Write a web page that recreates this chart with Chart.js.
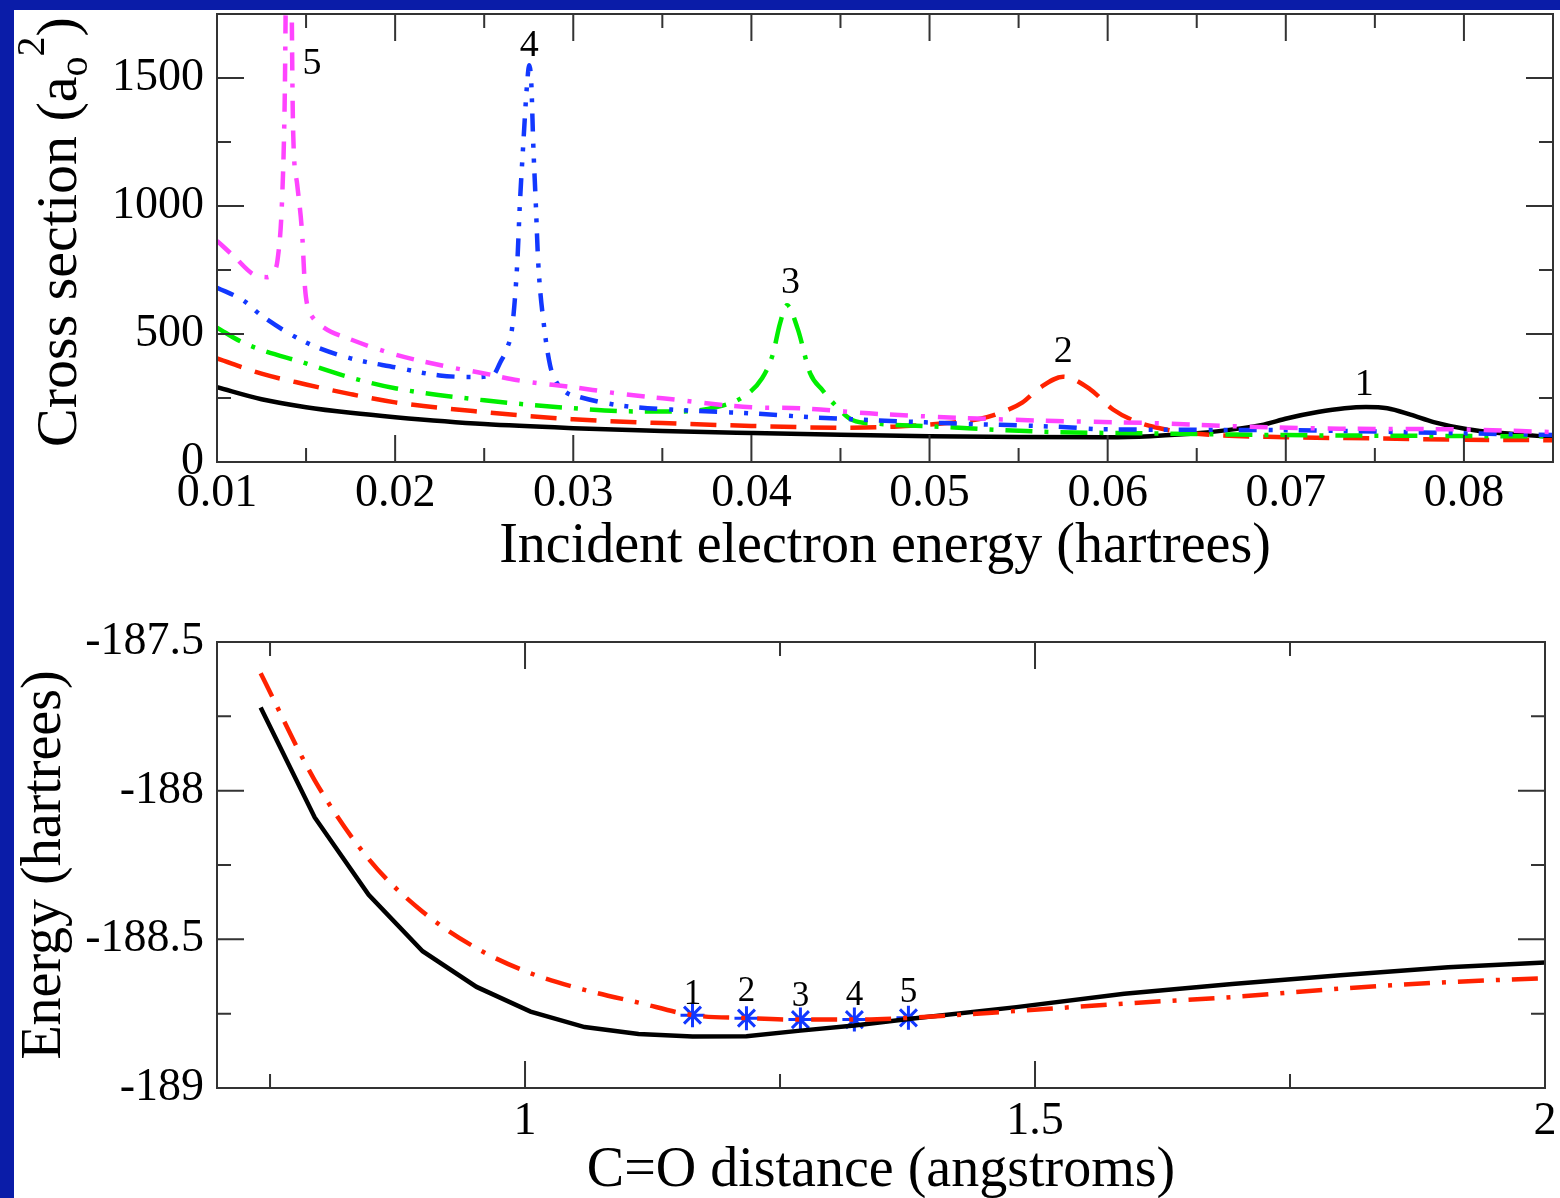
<!DOCTYPE html>
<html>
<head>
<meta charset="utf-8">
<script src="https://cdn.jsdelivr.net/npm/chart.js@4.4.0/dist/chart.umd.min.js"></script>
<style>
  html, body { margin: 0; padding: 0; }
  body { width: 1560px; height: 1198px; background: #0a1ca8; position: relative; overflow: hidden; }
  #panel { position: absolute; left: 14px; top: 10px; right: 0; bottom: 0; background: #fff; }
  canvas { position: absolute; left: 0; }
  #top { top: 0; }
  #bottom { top: 600px; }
</style>
</head>
<body>
<div id="panel"></div>
<canvas id="top" width="1560" height="590"></canvas>
<canvas id="bottom" width="1560" height="598"></canvas>
<script>
// ---- top panel: cross sections vs incident energy ----
const e1 = [0.010, 0.0125, 0.015, 0.0175, 0.020, 0.025, 0.030, 0.035, 0.040, 0.045, 0.050, 0.055, 0.060, 0.0624, 0.0652, 0.0686, 0.0701, 0.0718, 0.0733, 0.0745, 0.0757, 0.0770, 0.0783, 0.0802, 0.0821, 0.0851];
const cs1 = [292, 245, 214, 192, 175, 148, 132, 121, 113, 106, 101, 98, 97, 101, 113, 144, 171, 195, 210, 215, 210, 185, 156, 128, 113, 97];

const e2 = [0.010, 0.0125, 0.015, 0.0175, 0.020, 0.025, 0.030, 0.035, 0.040, 0.045, 0.048, 0.051, 0.0528, 0.0539, 0.0552, 0.0562, 0.0575, 0.0590, 0.0603, 0.0616, 0.0634, 0.065, 0.070, 0.075, 0.080, 0.085];
const cs2 = [405, 345, 303, 265, 233, 195, 167, 152, 141, 134, 138, 152, 168, 190, 232, 290, 333, 285, 205, 158, 125, 110, 97, 92, 87, 85];

const e3 = [0.010, 0.0115, 0.015, 0.0175, 0.020, 0.025, 0.030, 0.033, 0.0358, 0.038, 0.0395, 0.0406, 0.0412, 0.0416, 0.0420, 0.0426, 0.0433, 0.0440, 0.0446, 0.0457, 0.047, 0.051, 0.054, 0.057, 0.062, 0.070, 0.078, 0.085];
const cs3 = [525, 465, 385, 330, 288, 241, 210, 198, 197, 214, 253, 327, 420, 540, 612, 520, 346, 280, 230, 163, 150, 136, 125, 117, 112, 105, 102, 100];

const e4 = [0.010, 0.0115, 0.0125, 0.015, 0.0175, 0.020, 0.0225, 0.0245, 0.0255, 0.0259, 0.0263, 0.02657, 0.02686, 0.0270, 0.0272, 0.0274, 0.02753, 0.02765, 0.02775, 0.0279, 0.02803, 0.02837, 0.0287, 0.0290, 0.0296, 0.0304, 0.0325, 0.0362, 0.040, 0.0433, 0.047, 0.0508, 0.0577, 0.0596, 0.069, 0.0793, 0.085];
const cs4 = [681, 630, 572, 467, 405, 370, 338, 332, 340, 389, 447, 525, 782, 1004, 1249, 1470, 1550, 1470, 1249, 1004, 782, 525, 377, 319, 272, 253, 222, 202, 190, 175, 163, 152, 136, 128, 125, 113, 105];

const e5 = [0.010, 0.011, 0.012, 0.0128, 0.0132, 0.0134, 0.01365, 0.0138, 0.01395, 0.0141, 0.01427, 0.0145, 0.01478, 0.01494, 0.0151, 0.0153, 0.016, 0.0175, 0.020, 0.0231, 0.025, 0.0269, 0.030, 0.0325, 0.035, 0.040, 0.0427, 0.0466, 0.0508, 0.0571, 0.0625, 0.067, 0.073, 0.079, 0.085];
const cs5 = [864, 800, 735, 722, 745, 790, 1019, 1408, 2300, 2300, 1303, 1085, 891, 681, 603, 572, 525, 479, 420, 370, 346, 319, 292, 268, 249, 214, 210, 190, 175, 160, 152, 140, 130, 128, 117];

const eTicks = [0.01, 0.02, 0.03, 0.04, 0.05, 0.06, 0.07, 0.08];
const eMinor = [0.015, 0.025, 0.035, 0.045, 0.055, 0.065, 0.075, 0.085];
const csTicks = [0, 500, 1000, 1500];
const csMinor = [250, 750, 1250];

const peakText = ['1', '2', '3', '4', '5'];
const peakE = [0.0744, 0.0575, 0.0422, 0.02753, 0.01534];
const peakCS = [300, 428, 700, 1623, 1556];

// ---- bottom panel: potential energy curves ----
const dist = [0.7408, 0.7938, 0.8467, 0.8996, 0.9525, 1.0054, 1.0584, 1.1113, 1.1642, 1.2171, 1.2700, 1.3229, 1.3759, 1.4817, 1.5875, 1.6934, 1.7992, 1.9050, 2.0];
const enBlack = [-187.72, -188.09, -188.35, -188.54, -188.66, -188.743, -188.795, -188.818, -188.827, -188.826, -188.807, -188.790, -188.768, -188.728, -188.683, -188.650, -188.621, -188.594, -188.578];
const enRed = [-187.605, -187.965, -188.23, -188.407, -188.530, -188.614, -188.670, -188.713, -188.755, -188.765, -188.770, -188.770, -188.764, -188.741, -188.716, -188.694, -188.666, -188.644, -188.631];

const starX = [1.1642, 1.2171, 1.2700, 1.3229, 1.3759];
const starE = [-188.755, -188.765, -188.770, -188.770, -188.764];
const starText = ['1', '2', '3', '4', '5'];
const starLabelE = [-188.687, -188.678, -188.694, -188.691, -188.681];

const dTicks = [1, 1.5, 2];
const dMinor = [0.75, 1.25, 1.75];
const enTicks = [-189, -188.5, -188, -187.5];
const enMinor = [-188.75, -188.25, -187.75];

const serif = '"Liberation Serif", "Times New Roman", serif';
const pts = (xs, ys) => xs.map((x, i) => ({ x: x, y: ys[i] }));

function framePlugin(cfg) {
    return {
        id: 'frame',
        afterDraw(chart) {
            const ctx = chart.ctx, a = chart.chartArea;
            const xs = chart.scales.x, ys = chart.scales.y;
            ctx.save();
            ctx.strokeStyle = '#333';
            ctx.lineWidth = 2;
            ctx.strokeRect(a.left, a.top, a.right - a.left, a.bottom - a.top);
            ctx.beginPath();
            const xt = (vals, len) => vals.forEach(v => {
                const p = xs.getPixelForValue(v);
                ctx.moveTo(p, a.bottom); ctx.lineTo(p, a.bottom - len);
                ctx.moveTo(p, a.top); ctx.lineTo(p, a.top + len);
            });
            const yt = (vals, len) => vals.forEach(v => {
                const p = ys.getPixelForValue(v);
                ctx.moveTo(a.left, p); ctx.lineTo(a.left + len, p);
                ctx.moveTo(a.right, p); ctx.lineTo(a.right - len, p);
            });
            xt(cfg.xMajor, 27); xt(cfg.xMinor, 14);
            yt(cfg.yMajor, 27); yt(cfg.yMinor, 14);
            ctx.stroke();

            ctx.fillStyle = '#000';
            // x title
            ctx.font = '56px ' + serif;
            ctx.textAlign = 'center';
            ctx.textBaseline = 'alphabetic';
            ctx.fillText(cfg.xTitle, (a.left + a.right) / 2, cfg.xTitleY);

            // y title, rotated, with optional sub/superscripts
            ctx.save();
            ctx.translate(cfg.yTitleX, (a.top + a.bottom) / 2 + (cfg.yTitleShift || 0));
            ctx.rotate(-Math.PI / 2);
            ctx.textAlign = 'left';
            let total = 0;
            cfg.yTitle.forEach(p => { ctx.font = p.size + 'px ' + serif; total += ctx.measureText(p.t).width; });
            let cx = -total / 2;
            cfg.yTitle.forEach(p => {
                ctx.font = p.size + 'px ' + serif;
                ctx.fillText(p.t, cx, p.dy);
                cx += ctx.measureText(p.t).width;
            });
            ctx.restore();

            // numbered labels
            ctx.font = cfg.labelSize + 'px ' + serif;
            ctx.textAlign = 'center';
            ctx.textBaseline = 'middle';
            cfg.labels.text.forEach((t, i) => {
                ctx.fillText(t, xs.getPixelForValue(cfg.labels.x[i]), ys.getPixelForValue(cfg.labels.y[i]));
            });
            ctx.restore();
        }
    };
}

function axis(min, max, ticks, fit) {
    return {
        type: 'linear', min: min, max: max,
        grid: { display: false, drawTicks: false },
        border: { display: false },
        ticks: {
            font: { family: serif, size: 46 }, color: '#000', padding: fit.pad,
            autoSkip: false, maxRotation: 0, callback: v => String(v)
        },
        afterBuildTicks: s => { s.ticks = ticks.map(v => ({ value: v })); },
        afterFit: s => {
            if (fit.width) s.width = fit.width;
            if (fit.height) s.height = fit.height;
            s.paddingLeft = 0; s.paddingRight = 0; s.paddingTop = 0; s.paddingBottom = 0;
        }
    };
}

const lineStyle = (color, dash) => ({
    borderColor: color, borderWidth: 4.5, borderDash: dash, pointRadius: 0,
    cubicInterpolationMode: 'monotone', fill: false
});

new Chart(document.getElementById('top'), {
    type: 'line',
    data: {
        datasets: [
            Object.assign({ data: pts(e5, cs5) }, lineStyle('#ff44ff', [18, 12, 18, 13, 4, 13])),
            Object.assign({ data: pts(e4, cs4) }, lineStyle('#1238ff', [18, 12, 4, 11, 4, 11])),
            Object.assign({ data: pts(e3, cs3) }, lineStyle('#00ee00', [27, 12, 4, 12])),
            Object.assign({ data: pts(e2, cs2) }, lineStyle('#ff2200', [26, 14])),
            Object.assign({ data: pts(e1, cs1) }, lineStyle('#000000', []))
        ]
    },
    options: {
        responsive: false, animation: false, devicePixelRatio: 1,
        layout: { padding: { top: 14, right: 7, left: 0, bottom: 0 } },
        plugins: { legend: { display: false }, tooltip: { enabled: false } },
        scales: {
            x: axis(0.01, 0.085, eTicks, { height: 128, pad: 4 }),
            y: axis(0, 1750, csTicks, { width: 217, pad: 13 })
        }
    },
    plugins: [framePlugin({
        xMajor: eTicks, xMinor: eMinor, yMajor: csTicks, yMinor: csMinor,
        xTitle: 'Incident electron energy (hartrees)', xTitleY: 562,
        yTitleX: 76, yTitleShift: -6,
        yTitle: [
            { t: 'Cross section (a', size: 58, dy: 0 },
            { t: 'o', size: 40, dy: 11 },
            { t: '2', size: 40, dy: -32 },
            { t: ')', size: 58, dy: 0 }
        ],
        labelSize: 38,
        labels: { text: peakText, x: peakE, y: peakCS }
    })]
});

new Chart(document.getElementById('bottom'), {
    type: 'line',
    data: {
        datasets: [
            Object.assign({ data: pts(dist, enRed) }, lineStyle('#ff2200', [26, 12, 4, 12])),
            Object.assign({ data: pts(dist, enBlack) }, lineStyle('#000000', []), { cubicInterpolationMode: 'default', tension: 0 }),
            {
                data: pts(starX, starE), showLine: false, pointStyle: 'star',
                pointRadius: 12, borderColor: '#1238ff', borderWidth: 3, backgroundColor: '#1238ff'
            }
        ]
    },
    options: {
        responsive: false, animation: false, devicePixelRatio: 1,
        layout: { padding: { top: 42, right: 7, left: 0, bottom: 0 } },
        plugins: { legend: { display: false }, tooltip: { enabled: false } },
        scales: {
            x: axis(0.698, 2, dTicks, { height: 110, pad: 6 }),
            y: axis(-189, -187.5, enTicks, { width: 217, pad: 13 })
        }
    },
    plugins: [framePlugin({
        xMajor: dTicks, xMinor: dMinor, yMajor: enTicks, yMinor: enMinor,
        xTitle: 'C=O distance (angstroms)', xTitleY: 1186 - 600,
        yTitleX: 60,
        yTitle: [{ t: 'Energy (hartrees)', size: 56, dy: 0 }],
        labelSize: 35,
        labels: { text: starText, x: starX, y: starLabelE }
    })]
});
</script>
</body>
</html>
